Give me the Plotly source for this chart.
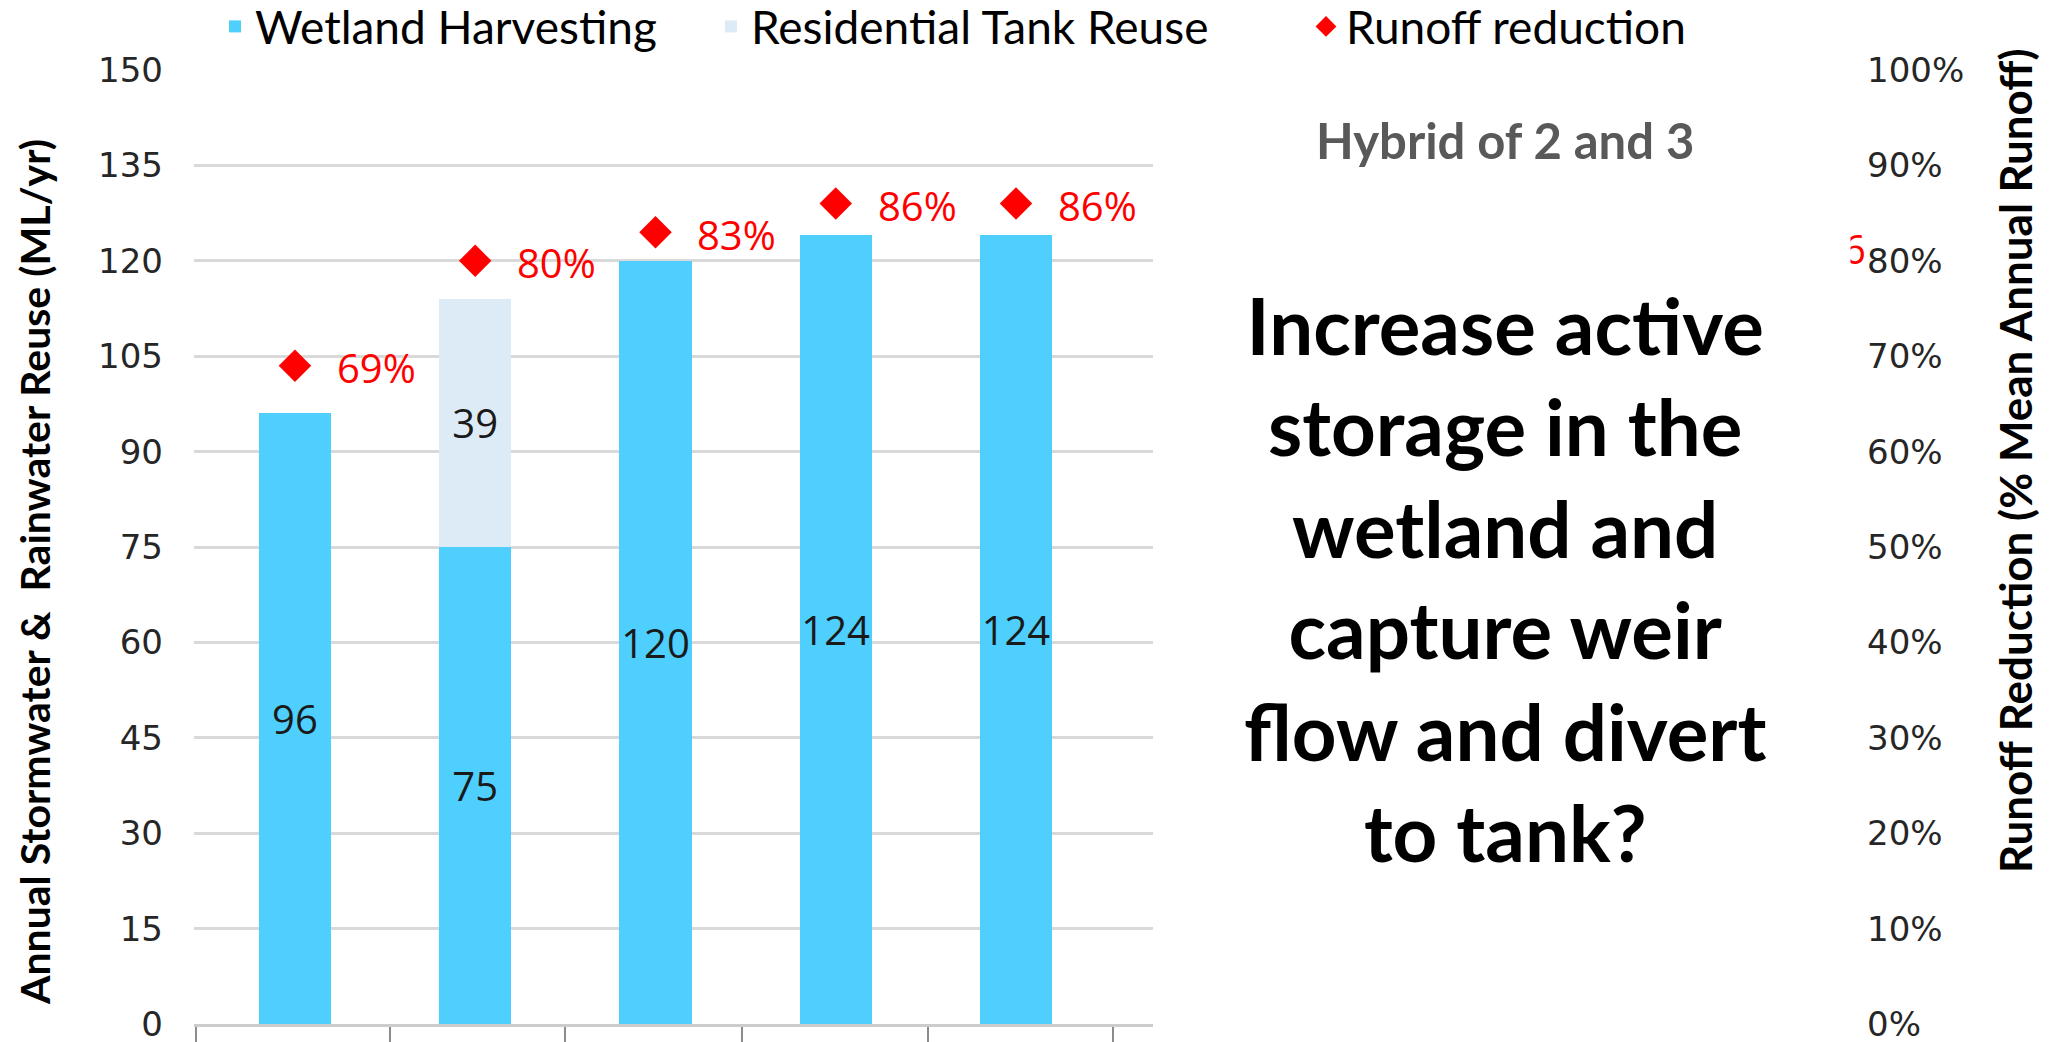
import plotly.graph_objects as go

# Annual reuse per option (ML/yr) and runoff reduction (% of mean annual runoff)
options = [0, 1, 2, 3, 4]
wetland_harvesting = [96, 75, 120, 124, 124]
residential_tank_reuse = [None, 39, None, None, None]
runoff_reduction_pct = [69, 80, 83, 86, 86]

left_ticks = list(range(0, 151, 15))
right_ticks = list(range(0, 101, 10))
right_tick_text = [f"{v}%" for v in right_ticks]

W, H = 2059, 1042
BLUE = "#4ECFFE"
PALE = "#DDEBF7"
RED = "#FF0000"
GRID = "#D9D9D9"
TICK_FONT = dict(family="DejaVu Sans", size=34, color="#262626")
LEGEND_FONT = dict(family="Lato", size=46, color="#000000")
LABEL_FONT = dict(family="Open Sans", size=40, color="#1a1a1a")

fig = go.Figure()

fig.add_trace(go.Bar(
    x=options, y=wetland_harvesting, name="Wetland Harvesting",
    marker=dict(color=BLUE, line=dict(width=0)), width=0.4,
    text=[str(v) for v in wetland_harvesting], textposition="inside",
    insidetextanchor="middle", textangle=0, constraintext="none",
    textfont=LABEL_FONT, legend="legend", hoverinfo="skip",
))
fig.add_trace(go.Bar(
    x=options, y=residential_tank_reuse, name="Residential Tank Reuse",
    marker=dict(color=PALE, line=dict(width=0)), width=0.4,
    text=["" if v is None else str(v) for v in residential_tank_reuse],
    textposition="inside", insidetextanchor="middle", textangle=0,
    constraintext="none", textfont=LABEL_FONT, legend="legend2",
    hoverinfo="skip",
))
fig.add_trace(go.Scatter(
    x=options, y=runoff_reduction_pct, name="Runoff reduction",
    mode="markers", yaxis="y2",
    marker=dict(symbol="diamond", size=25, color=RED, line=dict(width=0)),
    legend="legend3", hoverinfo="skip",
))

# Percentage labels beside each diamond
for xi, p in zip(options, runoff_reduction_pct):
    fig.add_annotation(
        x=xi, y=p, xref="x", yref="y2", text=f"{p}%", showarrow=False,
        xanchor="left", yanchor="middle", xshift=40, yshift=-2,
        font=dict(family="Open Sans", size=40, color=RED),
    )

# Axis titles
fig.add_annotation(
    x=34 / W, y=1 - 572 / H, xref="paper", yref="paper",
    text="<b>Annual Stormwater &amp;&nbsp; Rainwater Reuse (ML/yr)</b>",
    textangle=-90, showarrow=False, xanchor="center", yanchor="middle",
    font=dict(family="Lato", size=41, color="#000000"),
)
fig.add_annotation(
    x=2015 / W, y=1 - 461 / H, xref="paper", yref="paper",
    text="<b>Runoff Reduction (% Mean Annual Runoff)</b>",
    textangle=-90, showarrow=False, xanchor="center", yanchor="middle",
    font=dict(family="Lato", size=44, color="#000000"),
)

# Scenario caption and question
fig.add_annotation(
    x=1505 / W, y=1 - 140 / H, xref="paper", yref="paper",
    text="<b>Hybrid of 2 and 3</b>", showarrow=False,
    xanchor="center", yanchor="middle",
    font=dict(family="Lato", size=49, color="#595959"),
)
fig.add_annotation(
    x=1505 / W, y=1 - 578 / H, xref="paper", yref="paper",
    text=("<b>Increase active<br>storage in the<br>wetland and<br>"
          "capture weir<br>flow and divert<br>to tank?</b>"),
    showarrow=False, xanchor="center", yanchor="middle", align="center",
    font=dict(family="Lato", size=78, color="#000000"),
)

# Clipped fragment of a red label next to the right axis
fig.add_annotation(
    x=1868 / W, y=1 - 249 / H, xref="paper", yref="paper", text="6",
    showarrow=False, xanchor="right", yanchor="middle",
    font=dict(family="Open Sans", size=40, color=RED),
)
fig.add_annotation(
    x=1851 / W, y=1 - 249 / H, xref="paper", yref="paper", text=" ",
    showarrow=False, xanchor="right", yanchor="middle",
    width=40, height=60, bgcolor="#FFFFFF", borderpad=0,
)

legend_common = dict(
    orientation="h", yanchor="top", y=1 + 10 / H, xanchor="left",
    font=LEGEND_FONT, bgcolor="rgba(0,0,0,0)", borderwidth=0,
)

fig.update_layout(
    width=W, height=H,
    margin=dict(l=0, r=0, t=0, b=0, autoexpand=False),
    paper_bgcolor="#FFFFFF", plot_bgcolor="#FFFFFF",
    barmode="stack", showlegend=True,
    uniformtext=dict(minsize=40, mode="show"),
    legend=dict(legend_common, x=215 / W),
    legend2=dict(legend_common, x=711 / W),
    legend3=dict(legend_common, x=1306 / W),
    xaxis=dict(
        domain=[194 / W, 1153 / W], range=[-0.56, 4.76],
        showgrid=False, zeroline=False,
        showline=True, linecolor="#CCCCCC", linewidth=3,
        ticks="outside", ticklen=18, tickwidth=1.5, tickcolor="#8C8C8C",
        tickvals=[-0.55, 0.53, 1.5, 2.48, 3.51, 4.54],
        showticklabels=False,
    ),
    yaxis=dict(
        domain=[(H - 1024) / H, (H - 70) / H], range=[0, 150],
        tickmode="array", tickvals=left_ticks,
        showgrid=True, gridcolor=GRID, gridwidth=2.5,
        zeroline=False, showline=False, ticks="",
        ticklabelstandoff=30, ticklabeloverflow="allow", tickfont=TICK_FONT,
    ),
    yaxis2=dict(
        overlaying="y", side="right", anchor="free", position=1866 / W,
        range=[0, 100], tickmode="array", tickvals=right_ticks,
        ticktext=right_tick_text,
        showgrid=False, zeroline=False, showline=False, ticks="",
        ticklabeloverflow="allow", tickfont=TICK_FONT,
    ),
)

fig.write_html("out.html")
